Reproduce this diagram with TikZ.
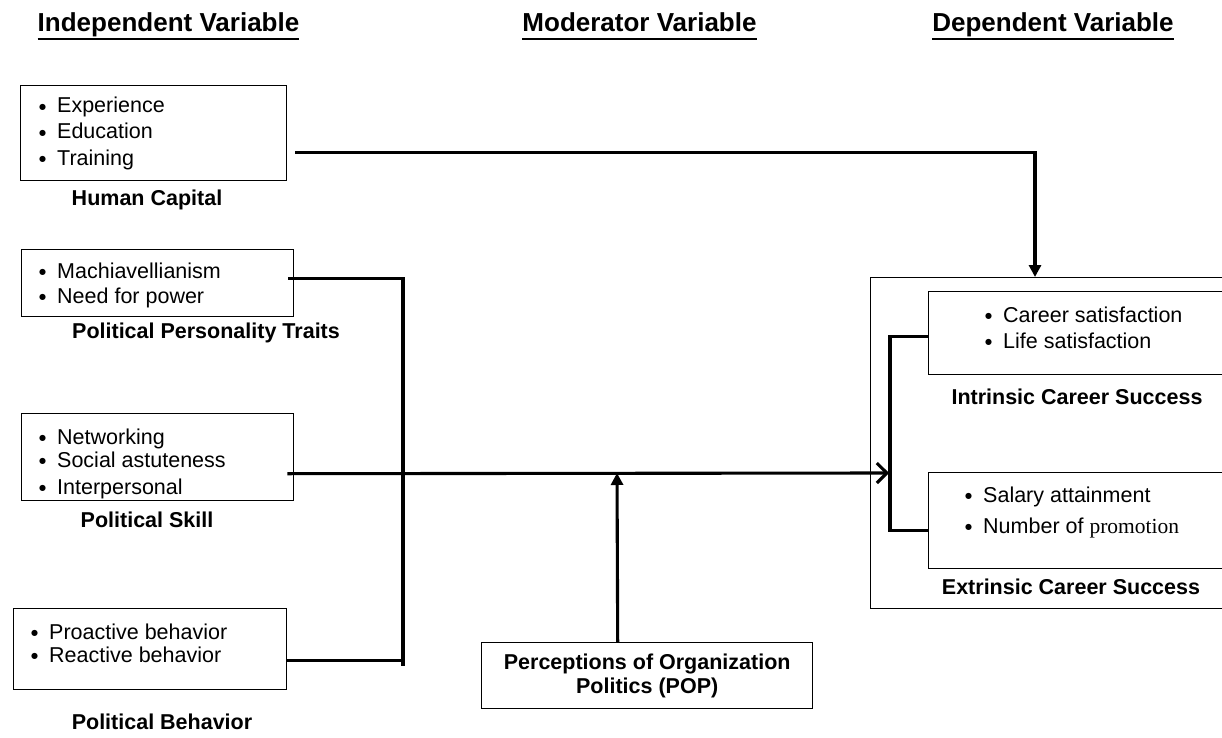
\documentclass[tikz,border=0pt]{standalone}
\usepackage{fontspec}
\setmainfont{Liberation Sans}
\newfontfamily\timesfont{Liberation Serif}
\newfontfamily\dotfont{DejaVu Sans}
\usetikzlibrary{arrows.meta,calc}

\tikzset{
  box/.style={draw, line width=1.4pt, rectangle, inner sep=0pt, anchor=north west},
  item/.style={anchor=base west, inner sep=0pt, font=\fontsize{21.5}{26}\selectfont},
  lbl/.style={font=\bfseries\fontsize{21.5}{24}\selectfont, inner sep=0pt, align=center},
  hdr/.style={font=\bfseries\fontsize{26}{30}\selectfont, inner sep=0pt, anchor=base},
  uline/.style={line width=2.6pt},
  conn/.style={line width=3.1pt},
  solidtip/.style={-{Triangle[length=12pt,width=12pt]}},
  opentip/.style={-{Straight Barb[length=10pt,width=20pt]}},
}
% bullet item: round dot, text starting 19pt to its right
\newcommand\bul[1]{\makebox[19pt][l]{\hspace{1pt}\raisebox{3.2pt}{\dotfont\fontsize{8}{8}\selectfont ●}}#1}

\begin{document}
\begin{tikzpicture}[x=1pt,y=-1pt]
\useasboundingbox (0,0) rectangle (1222,738);

% column headings
\node[hdr] (h1) at (168.5,32) {Independent Variable};
\node[hdr] (h2) at (639.5,32) {Moderator Variable};
\node[hdr] (h3) at (1053,32) {Dependent Variable};
\foreach \h in {h1,h2,h3}
  \draw[uline] ($(\h.base west)+(0,7)$) -- ($(\h.base east)+(0,7)$);

% independent variable boxes
\node[box, minimum width=266pt, minimum height=95pt] (hc) at (20,85) {};
\node[item] (hc1) at (38,113) {\bul{Experience}};
\node[item] (hc2) at (38,139) {\bul{Education}};
\node[item] (hc3) at (38,165) {\bul{Training}};
\node[lbl] (hcl) at (147,200) {Human Capital};

\node[box, minimum width=272pt, minimum height=67pt] (ppt) at (21,249) {};
\node[item] (ppt1) at (38,278) {\bul{Machiavellianism}};
\node[item] (ppt2) at (38,303) {\bul{Need for power}};
\node[lbl] (pptl) at (206,333) {Political Personality Traits};

\node[box, minimum width=272pt, minimum height=87pt] (ps) at (21,413) {};
\node[item] (ps1) at (38,444) {\bul{Networking}};
\node[item] (ps2) at (38,467) {\bul{Social astuteness}};
\node[item] (ps3) at (38,494) {\bul{Interpersonal}};
\node[lbl] (psl) at (147,520) {Political Skill};

\node[box, minimum width=273pt, minimum height=81pt] (pb) at (13,608) {};
\node[item] (pb1) at (30,639) {\bul{Proactive behavior}};
\node[item] (pb2) at (30,662) {\bul{Reactive behavior}};
\node[lbl] (pbl) at (162,722) {Political Behavior};

% moderator
\node[box, minimum width=331pt, minimum height=66pt, lbl] (pop) at (481,642)
  {Perceptions of Organization\\Politics (POP)};

% dependent variable frame and boxes
\node[box, line width=1.2pt, minimum width=370pt, minimum height=331pt] (dv) at (870,277) {};
\node[box, minimum width=294pt, minimum height=83pt] (ics) at (928,291) {};
\node[item] (ics1) at (984,322) {\bul{Career satisfaction}};
\node[item] (ics2) at (984,348) {\bul{Life satisfaction}};
\node[lbl] (icsl) at (1077,397) {Intrinsic Career Success};

\node[box, minimum width=294pt, minimum height=96pt] (ecs) at (928,472) {};
\node[item] (ecs1) at (964,502) {\bul{Salary attainment}};
\node[item] (ecs2) at (964,533) {\bul{Number of {\timesfont promotion}}};
\node[lbl] (ecsl) at (1071,587) {Extrinsic Career Success};

% connectors
\coordinate (dvin) at (1035,277);
\coordinate (busend) at (403,666);
\coordinate (brk) at (889,473);
\coordinate (modpt) at (617,473);

\draw[conn, solidtip] ($(hc.east)+(8,19.5)$) -| (dvin);
\draw[conn] ($(ppt.east)+(-6,-4.5)$) -| (busend);
\draw[conn] ($(pb.east)+(0,11.5)$) -| (busend);
\draw[conn, opentip] ($(ps.east)+(-7,16.5)$) -- (brk);
\draw[conn] ($(ics.west)+(0,3.5)$) -| ($(ecs.west)+(-38,10)$) -- ($(ecs.west)+(0,10)$);
\draw[conn, solidtip] ($(pop.north)+(-29.5,0)$) -- (modpt);
\end{tikzpicture}
\end{document}
